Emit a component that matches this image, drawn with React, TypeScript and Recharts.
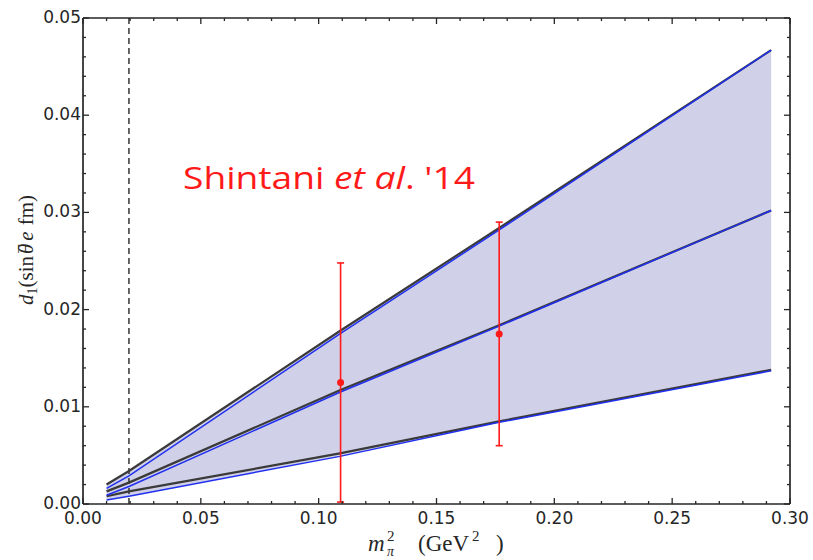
import {
  Area,
  ComposedChart,
  ErrorBar,
  Label,
  Line,
  ReferenceLine,
  Scatter,
  XAxis,
  YAxis,
} from 'recharts'

const mpi2 = [0.01, 0.0195, 0.109, 0.1766, 0.292]
const upperBlack = [0.002, 0.0034, 0.0178, 0.0284, 0.0467]
const upperBlue = [0.0016, 0.0029, 0.0175, 0.0282, 0.0467]
const centralBlack = [0.0013, 0.0022, 0.0117, 0.0184, 0.0302]
const centralBlue = [0.0009, 0.0018, 0.0115, 0.0183, 0.0302]
const lowerBlack = [0.0008, 0.0013, 0.0052, 0.0085, 0.0138]
const lowerBlue = [0.0004, 0.0008, 0.0049, 0.0084, 0.0137]

// lattice points
const latticeX = [0.1093, 0.1766]
const latticeY = [0.0125, 0.0175]
const latticeErr = [0.0123, 0.0115]

const physicalPoint = 0.0195

const xMajor = [0, 0.05, 0.1, 0.15, 0.2, 0.25, 0.3]
const yMajor = [0, 0.01, 0.02, 0.03, 0.04, 0.05]
const xTicks = Array.from({ length: 31 }, (_, i) => i / 100)
const yTicks = Array.from({ length: 26 }, (_, i) => (i * 2) / 1000)

const ink = '#262626'
const bandFill = '#d0d0e8'
const blackLine = '#3a3a3a'
const blueLine = '#2030f0'
const red = '#ff1a1a'
const tickFont = '"DejaVu Sans", sans-serif'
const mathFont = '"Liberation Serif", "DejaVu Serif", serif'

const rows = mpi2.map((x, i) => ({
  x,
  band: [lowerBlue[i], upperBlack[i]],
  upB: upperBlack[i],
  upL: upperBlue[i],
  midB: centralBlack[i],
  midL: centralBlue[i],
  lowB: lowerBlack[i],
  lowL: lowerBlue[i],
}))

const points = latticeX.map((x, i) => ({ x, y: latticeY[i], err: latticeErr[i] }))

const isMajor = (v: number, list: number[]) => list.some((m) => Math.abs(m - v) < 1e-9)

function BottomTick(props: any) {
  const { x, payload } = props
  const y = 504
  const major = isMajor(payload.value, xMajor)
  return (
    <g>
      <line x1={x} x2={x} y1={y} y2={y - (major ? 6 : 3)} stroke={ink} strokeWidth={1.3} />
      {major && (
        <text x={x} y={y + 20} textAnchor="middle" fontFamily={tickFont} fontSize={17} fill={ink}>
          {payload.value.toFixed(2)}
        </text>
      )}
    </g>
  )
}

function TopTick(props: any) {
  const { x, payload } = props
  const y = 18
  const major = isMajor(payload.value, xMajor)
  return <line x1={x} x2={x} y1={y} y2={y + (major ? 6 : 3)} stroke={ink} strokeWidth={1.3} />
}

function LeftTick(props: any) {
  const { y, payload } = props
  const x = 83
  const major = isMajor(payload.value, yMajor)
  return (
    <g>
      <line x1={x} x2={x + (major ? 6 : 3)} y1={y} y2={y} stroke={ink} strokeWidth={1.3} />
      {major && (
        <text x={x - 2} y={y + 5} textAnchor="end" fontFamily={tickFont} fontSize={17} fill={ink}>
          {payload.value.toFixed(2)}
        </text>
      )}
    </g>
  )
}

function RightTick(props: any) {
  const { y, payload } = props
  const x = 790
  const major = isMajor(payload.value, yMajor)
  return <line x1={x} x2={x - (major ? 6 : 3)} y1={y} y2={y} stroke={ink} strokeWidth={1.3} />
}

function XTitle() {
  const left = 368
  const base = 551
  return (
    <text y={base} fontFamily={mathFont} fontSize={23} fill={ink}>
      <tspan x={left} fontStyle="italic">m</tspan>
      <tspan x={left + 19} dy={-10} fontSize={15}>2</tspan>
      <tspan x={left + 19} dy={15} fontSize={14} fontStyle="italic">π</tspan>
      <tspan x={left + 50} dy={-5}>(GeV</tspan>
      <tspan x={left + 104} dy={-10} fontSize={15}>2</tspan>
      <tspan x={left + 128} dy={10}>)</tspan>
    </text>
  )
}

function YTitle() {
  const cx = 33
  const cy = 250
  return (
    <text
      x={cx}
      y={cy}
      transform={`rotate(-90, ${cx}, ${cy})`}
      textAnchor="middle"
      fontFamily={mathFont}
      fontSize={21}
      fill={ink}
    >
      <tspan fontStyle="italic">d</tspan>
      <tspan fontSize={14} dy={4}>1</tspan>
      <tspan dy={-4}>(sin</tspan>
      <tspan dx={2} fontStyle="italic">θ</tspan>
      <tspan dx={-9} dy={-2} fontSize={16}>¯</tspan>
      <tspan dx={4} dy={2} fontStyle="italic">e</tspan>
      <tspan dx={6}>fm)</tspan>
    </text>
  )
}

const axisCommon = {
  type: 'number' as const,
  interval: 0 as const,
  tickSize: 0,
  tickMargin: 0,
  tickLine: false,
  axisLine: { stroke: ink, strokeWidth: 1.7 },
  allowDataOverflow: true,
}

export default function App() {
  return (
    <div style={{ position: 'absolute', left: 0, top: 0, width: 813, height: 560, background: '#fff' }}>
      <ComposedChart
        width={813}
        height={560}
        data={rows}
        margin={{ top: 17, right: 22, bottom: 55, left: 82 }}
      >
        <XAxis {...axisCommon} dataKey="x" domain={[0, 0.3]} ticks={xTicks} height={1} tick={<BottomTick />}>
          <Label content={<XTitle />} />
        </XAxis>
        <XAxis
          {...axisCommon}
          xAxisId="top"
          orientation="top"
          dataKey="x"
          domain={[0, 0.3]}
          ticks={xTicks}
          height={1}
          tick={<TopTick />}
        />
        <YAxis {...axisCommon} domain={[0, 0.05]} ticks={yTicks} width={1} tick={<LeftTick />}>
          <Label content={<YTitle />} />
        </YAxis>
        <YAxis
          {...axisCommon}
          yAxisId="right"
          orientation="right"
          domain={[0, 0.05]}
          ticks={yTicks}
          width={1}
          tick={<RightTick />}
        />

        <Area dataKey="band" type="linear" fill={bandFill} fillOpacity={1} stroke="none" isAnimationActive={false} />

        <ReferenceLine x={physicalPoint} stroke={ink} strokeWidth={1.4} strokeDasharray="6 4" />

        <Line dataKey="upB" type="linear" stroke={blackLine} strokeWidth={2.2} dot={false} isAnimationActive={false} />
        <Line dataKey="midB" type="linear" stroke={blackLine} strokeWidth={2.2} dot={false} isAnimationActive={false} />
        <Line dataKey="lowB" type="linear" stroke={blackLine} strokeWidth={2.2} dot={false} isAnimationActive={false} />
        <Line dataKey="upL" type="linear" stroke={blueLine} strokeWidth={1.5} dot={false} isAnimationActive={false} />
        <Line dataKey="midL" type="linear" stroke={blueLine} strokeWidth={1.5} dot={false} isAnimationActive={false} />
        <Line dataKey="lowL" type="linear" stroke={blueLine} strokeWidth={1.5} dot={false} isAnimationActive={false} />

        <Scatter
          data={points}
          dataKey="y"
          fill={red}
          isAnimationActive={false}
          shape={(p: any) => <circle cx={p.cx} cy={p.cy} r={3.5} fill={red} />}
        >
          <ErrorBar dataKey="err" direction="y" width={3.5} stroke={red} strokeWidth={1.6} />
        </Scatter>
      </ComposedChart>
      <svg width={813} height={560} style={{ position: 'absolute', left: 0, top: 0, pointerEvents: 'none' }}>
        <text
          x={183}
          y={189}
          fontFamily='"Comic Sans MS", "Open Sans", sans-serif'
          fontSize={31}
          fill={red}
          textLength={292}
          lengthAdjust="spacingAndGlyphs"
        >
          Shintani <tspan fontStyle="italic">et al</tspan>. '14
        </text>
      </svg>
    </div>
  )
}
